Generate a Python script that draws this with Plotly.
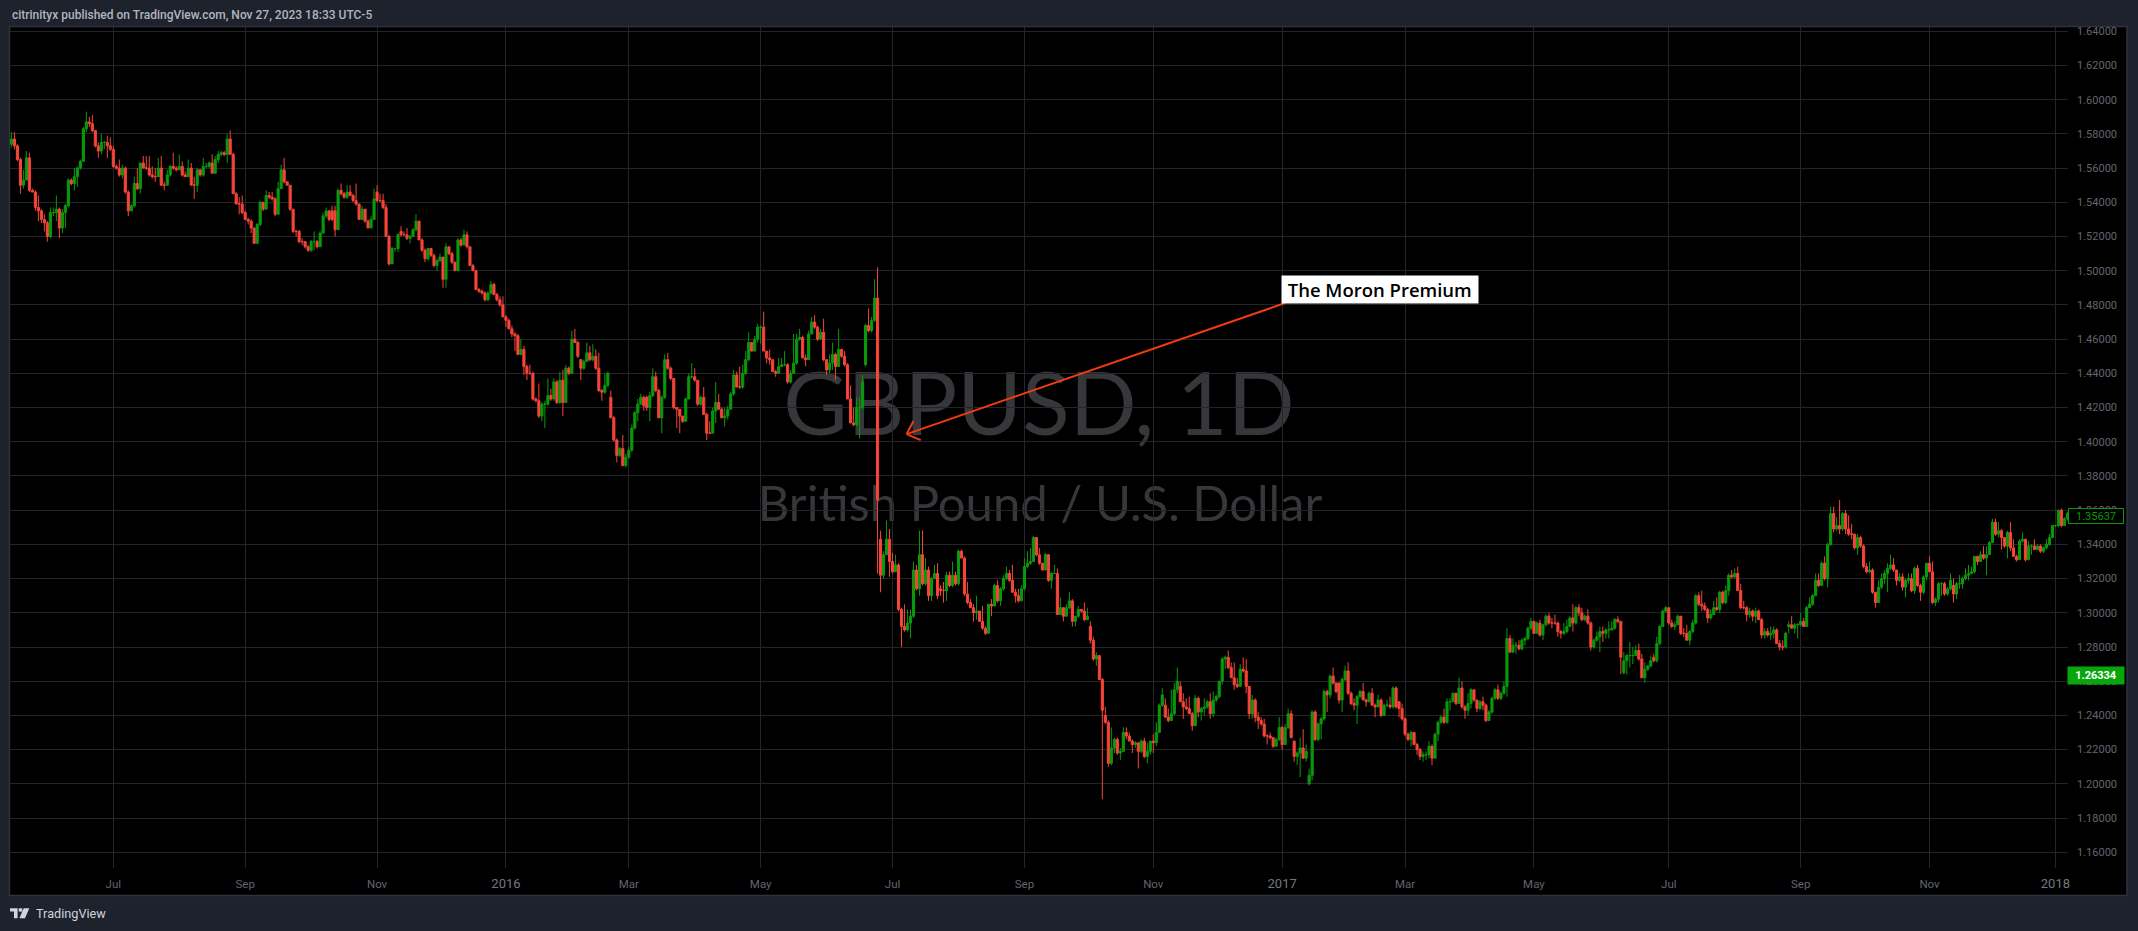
import plotly.graph_objects as go

# Daily GBP/USD, values in thousandths of a dollar
close_milli = [
1577,1573,1565,1550,1553,1566,1547,1546,1537,1535,
1530,1528,1520,1534,1534,1536,1525,1534,1538,1553,
1551,1555,1560,1564,1583,1587,1586,1582,1573,1570,
1575,1575,1573,1571,1561,1560,1556,1560,1546,1535,
1538,1551,1548,1563,1560,1560,1556,1555,1555,1560,
1550,1550,1556,1561,1560,1559,1561,1556,1555,1560,
1550,1550,1559,1556,1561,1561,1563,1557,1565,1568,
1569,1568,1577,1568,1545,1539,1539,1534,1530,1529,
1525,1516,1527,1540,1536,1544,1543,1542,1533,1548,
1559,1552,1550,1536,1523,1523,1517,1517,1514,1512,
1517,1517,1514,1522,1532,1535,1530,1530,1524,1547,
1545,1543,1546,1544,1541,1539,1530,1536,1529,1525,
1530,1542,1541,1541,1537,1520,1504,1513,1513,1521,
1521,1521,1519,1520,1524,1529,1518,1512,1507,1513,
1509,1503,1506,1508,1495,1514,1510,1505,1500,1518,
1515,1521,1514,1503,1500,1489,1488,1487,1483,1487,
1492,1486,1483,1480,1473,1471,1466,1463,1462,1451,
1454,1444,1440,1440,1425,1424,1415,1422,1422,1427,
1425,1435,1423,1436,1423,1443,1440,1460,1458,1450,
1443,1447,1452,1448,1450,1443,1430,1429,1433,1440,
1414,1401,1392,1396,1386,1391,1395,1408,1417,1422,
1426,1421,1420,1427,1438,1430,1414,1426,1448,1443,
1437,1420,1419,1415,1412,1425,1438,1438,1436,1422,
1426,1416,1405,1405,1418,1423,1419,1414,1415,1419,
1428,1439,1432,1432,1440,1448,1458,1453,1460,1467,
1467,1453,1449,1448,1441,1440,1444,1445,1445,1435,
1440,1446,1460,1461,1449,1448,1463,1470,1467,1460,
1464,1448,1442,1446,1451,1444,1454,1450,1445,1425,
1411,1410,1420,1420,1435,1468,1465,1471,1484,1366,
1322,1334,1343,1330,1324,1328,1302,1292,1290,1294,
1298,1325,1314,1334,1317,1325,1310,1320,1323,1310,
1313,1313,1322,1316,1322,1317,1336,1332,1311,1306,
1303,1300,1301,1295,1291,1288,1305,1304,1316,1307,
1314,1320,1323,1319,1312,1310,1307,1314,1327,1329,
1330,1344,1334,1329,1325,1334,1319,1323,1323,1299,
1303,1298,1303,1307,1295,1298,1302,1301,1296,1298,
1284,1273,1275,1261,1243,1236,1212,1221,1226,1218,
1219,1230,1228,1225,1223,1224,1219,1225,1216,1219,
1225,1224,1230,1246,1252,1239,1237,1241,1255,1260,
1248,1245,1244,1241,1234,1250,1242,1244,1245,1248,
1241,1249,1251,1260,1273,1274,1268,1262,1258,1257,
1267,1266,1257,1241,1249,1239,1237,1235,1228,1228,
1227,1222,1226,1233,1223,1233,1241,1227,1216,1218,
1221,1215,1219,1205,1242,1226,1235,1238,1254,1252,
1263,1259,1254,1249,1261,1266,1253,1247,1246,1251,
1254,1249,1248,1253,1246,1245,1249,1240,1246,1246,
1245,1256,1245,1244,1238,1229,1226,1230,1223,1220,
1216,1217,1217,1222,1215,1229,1236,1239,1236,1248,
1248,1253,1247,1256,1245,1243,1247,1255,1249,1244,
1248,1246,1237,1242,1250,1255,1250,1253,1257,1285,
1277,1281,1281,1279,1284,1285,1291,1295,1288,1294,
1287,1293,1298,1294,1294,1294,1289,1288,1289,1292,
1297,1294,1303,1300,1296,1298,1294,1280,1284,1286,
1289,1288,1290,1290,1291,1296,1295,1274,1272,1275,
1275,1275,1278,1273,1262,1267,1269,1272,1272,1282,
1292,1301,1303,1294,1292,1293,1298,1288,1288,1284,
1289,1294,1310,1305,1304,1302,1297,1299,1303,1302,
1312,1306,1313,1322,1321,1323,1313,1303,1303,1299,
1301,1298,1301,1296,1287,1289,1287,1288,1290,1282,
1280,1280,1288,1293,1291,1293,1293,1295,1292,1303,
1305,1310,1319,1316,1329,1320,1340,1358,1349,1351,
1349,1358,1349,1346,1346,1338,1344,1339,1327,1324,
1325,1312,1306,1315,1320,1323,1326,1328,1325,1319,
1321,1315,1319,1320,1313,1326,1316,1312,1321,1329,
1324,1306,1308,1317,1317,1311,1314,1319,1311,1317,
1317,1320,1322,1323,1324,1333,1330,1334,1332,1334,
1341,1353,1346,1348,1344,1339,1347,1338,1333,1331,
1342,1343,1331,1339,1339,1337,1339,1336,1338,1340,
1344,1351,1351,1360,1351,1355,1358]

high_milli = [
1581,1581,1574,1566,1559,1570,1569,1548,1547,1544,
1536,1533,1529,1537,1537,1544,1537,1536,1539,1554,
1554,1560,1561,1565,1584,1593,1590,1591,1582,1575,
1580,1576,1579,1578,1573,1562,1565,1562,1561,1547,
1539,1555,1560,1563,1567,1567,1567,1561,1560,1566,
1567,1552,1559,1562,1569,1561,1568,1564,1558,1565,
1563,1555,1560,1559,1566,1563,1564,1568,1567,1570,
1570,1570,1580,1582,1569,1546,1543,1544,1535,1531,
1530,1525,1528,1541,1540,1547,1546,1546,1543,1552,
1562,1566,1552,1550,1536,1524,1524,1519,1517,1515,
1518,1523,1518,1523,1534,1537,1535,1538,1538,1548,
1551,1546,1550,1550,1545,1551,1539,1538,1536,1530,
1532,1548,1550,1545,1545,1539,1521,1514,1513,1522,
1526,1523,1525,1521,1525,1533,1529,1519,1513,1513,
1513,1510,1507,1510,1508,1516,1514,1511,1505,1519,
1519,1524,1523,1514,1504,1500,1490,1489,1488,1488,
1494,1493,1487,1485,1485,1474,1472,1468,1464,1463,
1460,1456,1445,1445,1441,1426,1434,1423,1424,1437,
1431,1437,1436,1441,1442,1445,1444,1465,1466,1459,
1448,1448,1458,1456,1457,1454,1452,1431,1440,1441,
1430,1415,1402,1397,1404,1393,1397,1410,1418,1425,
1428,1427,1427,1429,1443,1441,1431,1427,1451,1452,
1444,1437,1420,1418,1415,1426,1440,1446,1443,1436,
1427,1432,1417,1412,1420,1435,1428,1420,1420,1421,
1429,1442,1441,1444,1445,1453,1464,1458,1462,1469,
1468,1476,1453,1454,1448,1442,1449,1449,1453,1446,
1442,1463,1463,1466,1462,1451,1465,1473,1474,1468,
1466,1472,1448,1451,1458,1452,1466,1454,1453,1446,
1433,1420,1426,1426,1439,1469,1478,1473,1495,1502,
1348,1336,1354,1349,1335,1334,1329,1303,1305,1302,
1302,1330,1328,1348,1348,1332,1327,1321,1328,1329,
1316,1318,1324,1324,1330,1324,1337,1337,1333,1318,
1308,1305,1310,1301,1304,1292,1305,1308,1317,1319,
1315,1322,1327,1325,1328,1314,1314,1316,1332,1336,
1338,1345,1344,1338,1329,1335,1334,1324,1328,1326,
1309,1303,1305,1312,1308,1298,1304,1302,1306,1303,
1295,1286,1277,1275,1262,1245,1237,1233,1227,1227,
1221,1233,1233,1230,1226,1225,1224,1226,1227,1224,
1225,1229,1236,1247,1256,1250,1244,1255,1259,1268,
1260,1253,1250,1251,1242,1252,1251,1245,1250,1249,
1253,1254,1252,1260,1274,1275,1278,1271,1271,1262,
1270,1274,1273,1257,1252,1250,1242,1239,1238,1229,
1230,1227,1227,1239,1234,1235,1244,1243,1225,1219,
1227,1232,1223,1209,1243,1243,1236,1239,1255,1255,
1264,1268,1259,1259,1262,1269,1271,1254,1250,1252,
1255,1259,1250,1254,1256,1247,1252,1250,1247,1249,
1251,1257,1257,1248,1247,1239,1230,1231,1229,1224,
1221,1219,1219,1225,1223,1230,1237,1240,1244,1250,
1250,1253,1253,1262,1260,1246,1253,1256,1255,1249,
1249,1251,1247,1243,1251,1256,1258,1254,1260,1291,
1287,1285,1283,1284,1285,1286,1292,1297,1295,1295,
1296,1293,1299,1300,1297,1299,1295,1290,1294,1296,
1298,1305,1304,1305,1303,1299,1302,1295,1285,1289,
1292,1292,1291,1295,1295,1297,1298,1295,1277,1276,
1283,1280,1281,1282,1276,1271,1269,1275,1276,1286,
1293,1302,1304,1303,1296,1295,1299,1298,1291,1293,
1290,1296,1311,1312,1313,1306,1303,1302,1307,1309,
1313,1313,1316,1323,1325,1326,1327,1317,1307,1304,
1303,1302,1303,1302,1297,1291,1291,1292,1292,1291,
1284,1284,1289,1295,1298,1294,1294,1300,1297,1304,
1309,1311,1323,1323,1330,1333,1341,1362,1362,1356,
1366,1359,1360,1357,1352,1346,1346,1345,1340,1329,
1330,1326,1312,1319,1323,1325,1329,1334,1332,1325,
1323,1323,1320,1323,1323,1327,1328,1317,1322,1329,
1333,1330,1309,1318,1318,1318,1315,1323,1320,1318,
1322,1321,1326,1328,1327,1333,1333,1336,1339,1339,
1342,1355,1355,1353,1349,1344,1348,1353,1343,1334,
1343,1347,1343,1342,1340,1343,1340,1340,1339,1343,
1346,1351,1351,1360,1361,1356,1359]

low_milli = [
1572,1571,1564,1545,1548,1553,1546,1546,1535,1529,
1528,1523,1517,1519,1532,1529,1519,1522,1525,1537,
1550,1547,1549,1559,1564,1581,1584,1581,1572,1566,
1568,1571,1566,1570,1560,1559,1555,1554,1545,1532,
1535,1537,1547,1545,1560,1559,1555,1554,1552,1555,
1550,1547,1550,1555,1559,1558,1559,1555,1555,1555,
1550,1542,1546,1555,1555,1560,1560,1557,1557,1563,
1567,1567,1563,1568,1545,1539,1533,1533,1530,1527,
1522,1516,1517,1526,1535,1536,1542,1541,1532,1533,
1548,1551,1550,1535,1522,1520,1516,1515,1513,1511,
1511,1512,1513,1514,1522,1531,1529,1529,1520,1524,
1544,1542,1542,1544,1540,1538,1530,1530,1528,1525,
1525,1530,1540,1540,1536,1520,1503,1504,1511,1511,
1520,1521,1518,1516,1520,1523,1518,1511,1505,1506,
1508,1502,1500,1505,1490,1490,1509,1504,1500,1500,
1514,1515,1513,1503,1500,1489,1487,1486,1482,1482,
1486,1486,1482,1479,1473,1467,1466,1461,1453,1451,
1452,1439,1436,1439,1424,1423,1414,1412,1408,1421,
1424,1424,1422,1422,1415,1424,1439,1440,1458,1449,
1436,1442,1447,1447,1447,1442,1429,1424,1428,1432,
1414,1400,1388,1391,1386,1385,1390,1394,1407,1412,
1422,1418,1418,1412,1426,1429,1414,1405,1425,1442,
1436,1419,1408,1405,1411,1412,1425,1437,1435,1421,
1421,1416,1401,1405,1405,1411,1419,1414,1409,1413,
1419,1427,1432,1431,1431,1439,1447,1453,1453,1458,
1457,1453,1446,1445,1441,1438,1440,1444,1444,1434,
1434,1440,1445,1459,1449,1444,1448,1463,1466,1459,
1460,1447,1439,1440,1442,1436,1444,1449,1444,1425,
1411,1409,1409,1402,1419,1444,1464,1464,1470,1323,
1312,1320,1334,1321,1323,1324,1301,1280,1289,1289,
1285,1297,1313,1310,1316,1316,1307,1307,1320,1308,
1310,1306,1307,1315,1315,1316,1316,1332,1310,1305,
1303,1295,1296,1295,1290,1287,1288,1298,1304,1306,
1304,1313,1319,1318,1312,1306,1306,1307,1313,1326,
1328,1330,1333,1328,1325,1325,1318,1314,1323,1299,
1299,1295,1298,1302,1292,1292,1297,1300,1295,1296,
1282,1272,1269,1261,1191,1235,1210,1211,1218,1217,
1214,1219,1226,1225,1218,1221,1209,1218,1215,1212,
1217,1218,1222,1230,1245,1239,1236,1237,1240,1253,
1248,1238,1243,1241,1231,1234,1239,1237,1240,1244,
1238,1239,1248,1250,1258,1267,1267,1262,1255,1256,
1257,1265,1253,1238,1238,1236,1232,1234,1227,1223,
1226,1221,1222,1225,1220,1223,1232,1227,1213,1211,
1204,1215,1213,1199,1202,1225,1225,1226,1237,1242,
1250,1258,1253,1247,1242,1260,1252,1246,1243,1235,
1250,1249,1245,1248,1246,1239,1245,1239,1240,1245,
1244,1244,1244,1239,1237,1228,1225,1222,1223,1217,
1214,1213,1214,1215,1211,1215,1225,1235,1235,1235,
1243,1248,1246,1248,1244,1238,1240,1244,1248,1242,
1243,1243,1236,1237,1241,1249,1249,1249,1252,1251,
1277,1277,1276,1278,1278,1281,1284,1290,1288,1288,
1286,1284,1292,1293,1291,1293,1286,1285,1287,1288,
1292,1289,1293,1298,1295,1295,1293,1278,1279,1283,
1277,1283,1285,1285,1290,1290,1294,1264,1264,1264,
1268,1270,1275,1272,1262,1259,1266,1268,1271,1271,
1281,1292,1300,1293,1291,1290,1293,1287,1286,1284,
1281,1288,1293,1304,1301,1301,1294,1296,1299,1301,
1300,1305,1305,1310,1320,1320,1313,1302,1302,1295,
1297,1295,1294,1296,1285,1285,1286,1284,1285,1282,
1278,1278,1279,1288,1291,1288,1285,1292,1292,1292,
1303,1304,1310,1315,1316,1319,1315,1339,1347,1348,
1346,1348,1346,1345,1343,1337,1334,1338,1326,1323,
1323,1311,1303,1308,1314,1317,1312,1325,1324,1316,
1318,1313,1309,1317,1312,1311,1315,1307,1311,1319,
1324,1305,1304,1306,1310,1310,1310,1313,1306,1308,
1314,1314,1319,1319,1323,1323,1328,1330,1331,1322,
1334,1341,1345,1344,1337,1338,1332,1336,1333,1330,
1331,1341,1330,1331,1334,1337,1337,1335,1335,1337,
1339,1344,1350,1350,1350,1351,1354]

# Bars whose open does not sit at the previous close (weekend gaps and the like)
gap_open_milli = {0:1574,107:1535,108:1535,122:1546,130:1523,190:1448,200:1426,212:1426,
                  285:1445,290:1343,310:1314,360:1292,365:1240,385:1246,390:1257,428:1225,
                  433:1200,443:1259,463:1248,538:1265,548:1274,593:1292,648:1316}

YEAR = '<span style="font-size:13px;color:#74777f">%s</span>'
tick_bars = [34,78,122,165,206,250,294,338,381,424,465,508,553,597,640,682]
tick_labels = ["Jul","Sep","Nov",YEAR % "2016","Mar","May","Jul","Sep","Nov",YEAR % "2017",
               "Mar","May","Jul","Sep","Nov",YEAR % "2018"]
price_ticks = [1.16,1.18,1.20,1.22,1.24,1.26,1.28,1.30,1.32,1.34,1.36,1.38,1.40,1.42,1.44,
               1.46,1.48,1.50,1.52,1.54,1.56,1.58,1.60,1.62,1.64]
last_close = 1.35637
other_price = 1.26334

n = min(len(close_milli), len(high_milli), len(low_milli))
bars = list(range(n))
closes = [v/1000 for v in close_milli[:n]]
highs = [v/1000 for v in high_milli[:n]]
lows = [v/1000 for v in low_milli[:n]]
opens = [gap_open_milli.get(i, close_milli[i-1] if i else close_milli[0])/1000 for i in bars]

W, H = 2138, 931
L, R, T, B = 10, 2068, 27, 868
def X(p): return (p-L)/(R-L)
def Y(p): return (B-p)/(B-T)

BG = "#1e222d"; GRID = "#242528"; GREEN = "#0a9a0c"; RED = "#f7453a"; ARROW = "#f23c10"
AX = "#63666e"

fig = go.Figure(go.Candlestick(
    x=bars, open=opens, high=highs, low=lows, close=closes,
    increasing=dict(line=dict(color=GREEN, width=1), fillcolor=GREEN),
    decreasing=dict(line=dict(color=RED, width=1), fillcolor=RED),
    whiskerwidth=0, showlegend=False, hoverinfo="skip"))

def wm(text, cx, cy, size, w=800, h=160):
    return dict(type="rect", xref="paper", yref="paper", layer="below",
                x0=X(cx-w/2), x1=X(cx+w/2), y0=Y(cy+h/2), y1=Y(cy-h/2),
                line=dict(width=0), fillcolor="rgba(0,0,0,0)",
                label=dict(text=text, textposition="middle center",
                           font=dict(family="Lato", size=size, color="#36373a")))

def poly(pts, color):
    d = "M " + " L ".join(f"{X(a):.5f} {Y(b):.5f}" for a, b in pts) + " Z"
    return dict(type="path", path=d, xref="paper", yref="paper", fillcolor=color,
                line=dict(width=0), layer="above")

shapes = [
    dict(type="rect", xref="paper", yref="paper", layer="below",
         x0=X(9.5), x1=X(2127), y0=Y(895.5), y1=Y(26.5),
         fillcolor="#000000", line=dict(color="#2e323d", width=1.5)),
    wm("GBPUSD, 1D", 1039, 400, 88),
    wm("British Pound / U.S. Dollar", 1040, 501, 49, w=900, h=80),
    dict(type="line", x0=425, y0=1.4811, x1=298.7, y1=1.4045, line=dict(color=ARROW, width=2)),
    dict(type="line", x0=301, y0=1.4121, x1=298.7, y1=1.4045, line=dict(color=ARROW, width=2)),
    dict(type="line", x0=303.4, y0=1.4010, x1=298.7, y1=1.4045, line=dict(color=ARROW, width=2)),
    poly([(10,908.3),(17.6,908.3),(17.6,918.3),(14,918.3),(14,911.6),(10,911.6)], "#d1d4dc"),
    poly([(18.7,908.3),(22.2,908.3),(22.2,911.6),(18.7,911.6)], "#d1d4dc"),
    poly([(23.6,908.3),(29.3,908.3),(25,918.3),(19.4,918.3)], "#d1d4dc"),
]

annotations = [
    dict(xref="paper", yref="paper", x=X(10), y=Y(15), xanchor="left", yanchor="middle",
         showarrow=False, text="citrinityx published on TradingView.com, Nov 27, 2023 18:33 UTC-5",
         font=dict(family="Roboto", size=12, color="#b2b5be", weight=500)),
    dict(xref="paper", yref="paper", x=X(34), y=Y(913.5), xanchor="left", yanchor="middle",
         showarrow=False, text="TradingView", font=dict(family="Roboto", size=12.7, color="#d1d4dc")),
    dict(xref="paper", yref="paper", x=X(1380.3), y=Y(289.5), xanchor="center", yanchor="middle",
         width=195.5, height=26.7, showarrow=False, bgcolor="#ffffff", borderpad=0,
         text="The Moron Premium", font=dict(family="Open Sans", size=18.5, color="#000000", weight=600)),
    dict(xref="paper", yref="y", x=X(2096), y=last_close, xanchor="center", yanchor="middle",
         width=54, height=14, showarrow=False, bgcolor="#000000", bordercolor=GREEN, borderwidth=1,
         borderpad=0, text=f"{last_close:.5f}", font=dict(family="Roboto", size=11, color=GREEN)),
    dict(xref="paper", yref="y", x=X(2096), y=other_price, xanchor="center", yanchor="middle",
         width=56, height=16.6, showarrow=False, bgcolor="#08a60c", borderpad=0,
         text=f"<b>{other_price:.5f}</b>", font=dict(family="Roboto", size=11, color="#ffffff")),
]

fig.update_layout(
    width=W, height=H, autosize=False,
    margin=dict(l=L, r=W-R, t=T, b=H-B, pad=0, autoexpand=False),
    paper_bgcolor=BG, plot_bgcolor="#000000", showlegend=False, boxgap=0.3, boxgroupgap=0,
    shapes=shapes, annotations=annotations,
    xaxis=dict(range=[-0.47, 686.2], tickmode="array", tickvals=tick_bars, ticktext=tick_labels,
               showgrid=True, gridcolor=GRID, gridwidth=1, zeroline=False, showline=False,
               rangeslider=dict(visible=False), ticks="", ticklabelstandoff=7,
               tickfont=dict(family="Roboto", size=11.5, color=AX)),
    yaxis=dict(range=[1.1508, 1.6425], side="right", tickmode="array", tickvals=price_ticks,
               tickformat=".5f", showgrid=True, gridcolor=GRID, gridwidth=1, zeroline=False,
               showline=False, ticks="", ticklabelstandoff=8,
               tickfont=dict(family="Roboto", size=11, color=AX)),
)

fig.write_html("out.html", config=dict(displayModeBar=False),
               post_script="document.body.style.margin='0';document.documentElement.style.background='#1e222d';")
